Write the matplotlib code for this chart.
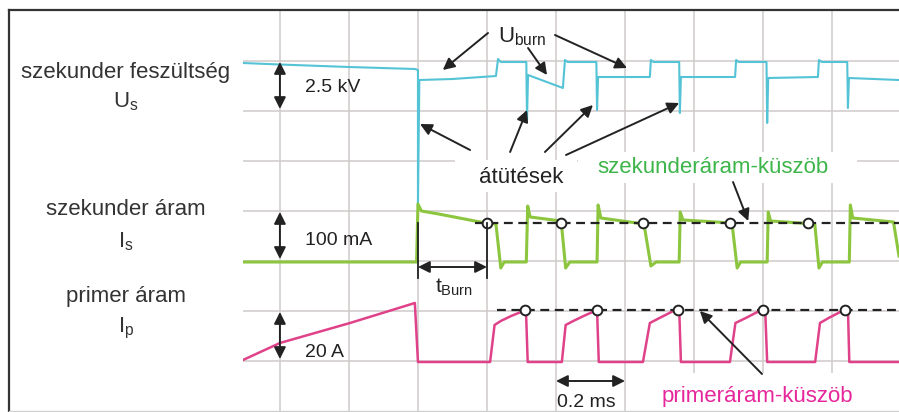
import matplotlib.pyplot as plt
from matplotlib.lines import Line2D
from matplotlib.patches import Rectangle

plt.rcParams['font.family'] = ['Liberation Sans', 'DejaVu Sans']
plt.rcParams['mathtext.fontset'] = 'custom'
plt.rcParams['mathtext.rm'] = 'Liberation Sans'
plt.rcParams['mathtext.it'] = 'Liberation Sans:italic'
plt.rcParams['mathtext.bf'] = 'Liberation Sans:bold'

######################## values ##################
# time in ms (0 = first breakdown, 0.2 ms / div), level in screen divisions

# secondary voltage U_s (cyan)
us_t = [-0.507, -0.40, -0.20, -0.009, 0.000, 0.000, 0.004, 0.100, 0.226,
        0.232, 0.240, 0.314, 0.316, 0.319, 0.420, 0.426, 0.434, 0.517,
        0.519, 0.522, 0.672, 0.675, 0.683, 0.757, 0.759, 0.762, 0.919,
        0.922, 0.930, 1.010, 1.012, 1.015, 1.159, 1.162, 1.170, 1.244,
        1.246, 1.249, 1.394]
us_div = [6.96, 6.93, 6.88, 6.84, 6.82, 4.10, 6.62, 6.64, 6.70,
          7.04, 6.98, 6.98, 5.82, 6.72, 6.46, 7.02, 6.98, 6.98,
          6.02, 6.68, 6.68, 7.02, 6.98, 6.98, 5.96, 6.68, 6.68,
          7.02, 6.98, 6.98, 5.76, 6.66, 6.68, 7.02, 6.98, 6.98,
          6.06, 6.66, 6.62]

# secondary current I_s (green)
is_t = [-0.507, -0.004, 0.000, 0.010, 0.060, 0.120, 0.180, 0.226, 0.240,
        0.250, 0.314, 0.318, 0.325, 0.415, 0.428, 0.440, 0.519, 0.522,
        0.530, 0.655, 0.675, 0.690, 0.757, 0.760, 0.768, 0.910, 0.925,
        0.935, 1.012, 1.015, 1.022, 1.150, 1.162, 1.172, 1.250, 1.253,
        1.260, 1.378, 1.394]
is_div = [2.98, 2.98, 4.14, 4.00, 3.94, 3.86, 3.78, 3.74, 2.86,
          2.98, 2.98, 4.10, 3.88, 3.80, 2.86, 2.98, 2.98, 4.12,
          3.86, 3.74, 2.90, 2.98, 2.98, 3.98, 3.82, 3.76, 2.86,
          2.98, 2.98, 3.98, 3.80, 3.74, 2.86, 2.98, 2.98, 4.12,
          3.86, 3.78, 3.10]

# primary current I_p (magenta)
ip_t = [-0.507, -0.400, -0.197, -0.009, 0.000, 0.209, 0.222, 0.240, 0.270,
        0.313, 0.318, 0.417, 0.428, 0.450, 0.480, 0.519, 0.524, 0.652,
        0.672, 0.700, 0.757, 0.762, 0.904, 0.920, 0.950, 1.006, 1.012,
        1.151, 1.165, 1.190, 1.246, 1.250, 1.394]
ip_div = [1.02, 1.36, 1.76, 2.16, 0.98, 0.98, 1.72, 1.80, 1.90,
          2.02, 0.98, 0.98, 1.72, 1.80, 1.90, 2.02, 0.98, 0.98,
          1.76, 1.86, 2.06, 0.98, 0.98, 1.76, 1.86, 2.06, 0.98,
          0.98, 1.76, 1.86, 2.06, 0.98, 0.98]

# thresholds and the points where they are reached
is_threshold = 3.76
ip_threshold = 2.02
is_cross_t = [0.200, 0.414, 0.652, 0.904, 1.130]
ip_cross_t = [0.310, 0.519, 0.754, 1.000, 1.238]

channel_labels = ['szekunder feszültség', 'szekunder áram', 'primer áram']
channel_symbols = [r'$\mathrm{U}_\mathrm{s}$', r'$\mathrm{I}_\mathrm{s}$',
                   r'$\mathrm{I}_\mathrm{p}$']
scale_labels = ['2.5 kV', '100 mA', '20 A']

CYAN = '#55c3d6'
GREEN = '#8cc63e'
MAGENTA = '#e0428a'
INK = '#222222'

############################################################################

fig = plt.figure(figsize=(8.99, 4.12), dpi=100)
ax = fig.add_axes([243 / 899, 1 / 412, 656 / 899, 400 / 412])
ax.set_xlim(-0.507, 1.394)
ax.set_ylim(0, 8)

# scope grid
ax.set_xticks([-0.4 + 0.2 * i for i in range(9)])
ax.set_yticks(range(1, 8))
ax.grid(True, color='#cfcaca', lw=1.1)
ax.set_axisbelow(True)
ax.tick_params(length=0, labelbottom=False, labelleft=False)
for s in ax.spines.values():
    s.set_visible(False)

# white patches behind the annotation texts
for x0, x1, y0, y1 in [(0.107, 0.461, 4.38, 5.02),
                       (0.464, 1.272, 4.56, 5.18),
                       (0.687, 1.281, 0.0, 0.76)]:
    ax.add_patch(Rectangle((x0, y0), x1 - x0, y1 - y0, fc='white',
                           ec='none', zorder=1))

# traces
ax.plot(us_t, us_div, color=CYAN, lw=1.5, zorder=2)
ax.plot(is_t, is_div, color=GREEN, lw=2.2, zorder=2)
ax.plot(ip_t, ip_div, color=MAGENTA, lw=1.8, zorder=2)

# thresholds
ax.plot([0.165, 1.394], [is_threshold] * 2, color=INK, lw=1.6,
        ls=(0, (4, 2.5)), zorder=3)
ax.plot([0.229, 1.394], [ip_threshold] * 2, color=INK, lw=1.6,
        ls=(0, (4, 2.5)), zorder=3)
ax.plot(is_cross_t, [is_threshold] * len(is_cross_t), 'o', ms=7,
        mfc='white', mec=INK, mew=1.4, zorder=4)
ax.plot(ip_cross_t, [ip_threshold] * len(ip_cross_t), 'o', ms=7,
        mfc='white', mec=INK, mew=1.4, zorder=4)

ARROW = '-|>,head_length=0.5,head_width=0.25'
DARROW = '<|-|>,head_length=0.5,head_width=0.25'


def arrow(tail, head, style=ARROW):
    ax.annotate('', xy=head, xytext=tail, zorder=5,
                arrowprops=dict(arrowstyle=style, color=INK, lw=1.4,
                                mutation_scale=14, shrinkA=0, shrinkB=0))


# scale arrows with volts/amps per division
for top, base, lab in zip([6.98, 3.98, 1.98], [6.38, 3.32, 1.08],
                          scale_labels):
    arrow((-0.4, top), (-0.4, top - 0.94), DARROW)
    ax.text(-0.328, base, lab, fontsize=14, color=INK, ha='left',
            va='baseline', zorder=5)

# U_burn
ax.text(0.232, 7.38, r'$\mathrm{U}_\mathrm{burn}$', fontsize=16, color=INK,
        ha='left', va='baseline', zorder=5)
arrow((0.203, 7.56), (0.072, 6.82))
arrow((0.319, 7.26), (0.374, 6.72))
arrow((0.397, 7.52), (0.606, 6.86))

# breakdowns
ax.text(0.299, 4.56, 'átütések', fontsize=16, color=INK, ha='center',
        va='baseline', zorder=5)
arrow((0.151, 5.22), (0.006, 5.74))
arrow((0.267, 5.18), (0.316, 6.02))
arrow((0.368, 5.18), (0.507, 6.12))
arrow((0.429, 5.12), (0.757, 6.16))

# secondary current threshold
ax.text(0.519, 4.76, 'szekunderáram-küszöb', fontsize=16, color='#3db54a',
        ha='left', va='baseline', zorder=5)
arrow((0.913, 4.58), (0.957, 3.80))

# primary current threshold
ax.text(0.707, 0.18, 'primeráram-küszöb', fontsize=16, color='#e5279b',
        ha='left', va='baseline', zorder=5)
arrow((0.997, 0.74), (0.817, 2.00))

# t_Burn
ax.plot([0, 0], [2.66, 3.76], color=INK, lw=1.3, zorder=4)
ax.plot([0.2, 0.2], [2.66, 3.76], color=INK, lw=1.3, zorder=4)
arrow((0.0, 2.88), (0.2, 2.88), DARROW)
ax.text(0.049, 2.36, r'$\mathrm{t}_\mathrm{Burn}$', fontsize=15, color=INK,
        ha='left', va='baseline', zorder=5)

# time scale
arrow((0.4, 0.6), (0.6, 0.6), DARROW)
ax.text(0.403, 0.08, '0.2 ms', fontsize=14, color=INK, ha='left',
        va='baseline', zorder=5)

# channel names on the left
for lab, sym, yb, ys in zip(channel_labels, channel_symbols,
                            [0.8107, 0.478, 0.267], [0.740, 0.400, 0.192]):
    fig.text(0.140, yb, lab, fontsize=16, color='#333333', ha='center',
             va='baseline')
    fig.text(0.140, ys, sym, fontsize=16, color='#333333', ha='center',
             va='baseline')

# frame of the picture
fig.add_artist(Line2D([9 / 899, 9 / 899], [0, 1 - 10 / 412], color='#333333',
                      lw=1.6))
fig.add_artist(Line2D([9 / 899, 1], [1 - 10 / 412] * 2, color='#333333',
                      lw=1.6))
fig.add_artist(Line2D([9 / 899, 1], [1 / 412] * 2, color='#d0d0d0', lw=1.0))

fig.savefig('out.png', dpi=100)
